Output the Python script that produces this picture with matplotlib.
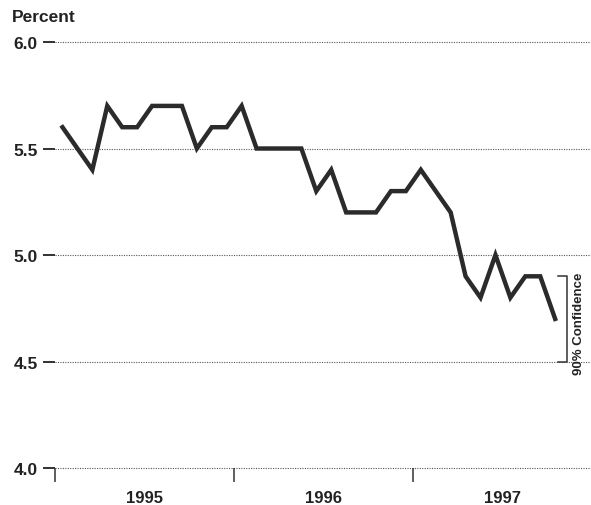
import numpy as np
import matplotlib.pyplot as plt

# =========================
# Data (monthly, Jan 1995 - Oct 1997)
# =========================
rate = [5.6, 5.5, 5.4, 5.7, 5.6, 5.6, 5.7, 5.7, 5.7, 5.5, 5.6, 5.6,
        5.7, 5.5, 5.5, 5.5, 5.5, 5.3, 5.4, 5.2, 5.2, 5.2, 5.3, 5.3,
        5.4, 5.3, 5.2, 4.9, 4.8, 5.0, 4.8, 4.9, 4.9, 4.7]
years = ["1995", "1996", "1997"]
yticks = [4.0, 4.5, 5.0, 5.5, 6.0]
conf_low, conf_high = 4.5, 4.9
conf_label = "90% Confidence"

plt.rcParams['font.family'] = ['Liberation Sans', 'DejaVu Sans']

fig = plt.figure(figsize=(5.91, 5.06), dpi=100)
ax = fig.add_axes([0.0931, 0.0731, 0.9069, 0.8419])

months = np.arange(len(rate))
ax.plot(months, rate, color="#2b2b2b", lw=3.2, solid_joinstyle="miter",
        clip_on=False, zorder=3)

# dotted grid
for v in yticks:
    ax.axhline(v, color="#555555", lw=0.8, ls=(0, (1, 1.2)), zorder=1,
               clip_on=False)

ax.set_ylim(4.0, 6.0)
ax.set_xlim(-0.5, 35.4)
for s in ax.spines.values():
    s.set_visible(False)

ax.set_yticks(yticks)
ax.set_yticklabels([f"{v:.1f}" for v in yticks], fontsize=12.5,
                   fontweight="bold", color="#222222")
ax.tick_params(axis="y", length=8.5, width=1.3, pad=4, color="#222222")

# year boundaries as major ticks, year names centred as minor ticks
ax.set_xticks([-0.5, 11.5, 23.5])
ax.set_xticklabels([])
ax.tick_params(axis="x", which="major", length=10, width=1.1,
               color="#333333")
ax.set_xticks([5.5, 17.5, 29.5], minor=True)
ax.set_xticklabels(years, minor=True, fontsize=12, fontweight="bold",
                   color="#222222")
ax.tick_params(axis="x", which="minor", length=0, pad=16)

# confidence bracket
bx, bl = 33.8, 33.2
ax.plot([bl, bx, bx, bl], [conf_high, conf_high, conf_low, conf_low],
        color="#333333", lw=1.1, clip_on=False)
ax.text(34.6, (conf_low + conf_high) / 2 - 0.02, conf_label, rotation=90,
        ha="center", va="center", fontsize=9.5, fontweight="bold",
        color="#222222")

fig.text(0.02, 0.966, "Percent", fontsize=12.5, fontweight="bold",
         color="#222222", va="center", ha="left")

fig.savefig("out.png", dpi=100)
